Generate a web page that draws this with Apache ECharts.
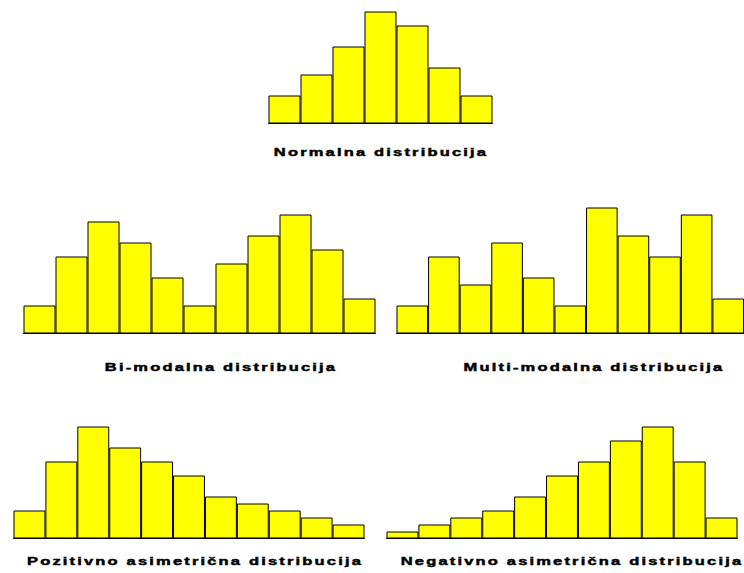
<!DOCTYPE html>
<html>
<head>
<meta charset="utf-8">
<script src="https://cdn.jsdelivr.net/npm/echarts@6/dist/echarts.min.js"></script>
<style>
  html, body { margin: 0; padding: 0; background: #fff; }
  #myChart text { letter-spacing: 1.45px; }
</style>
</head>
<body>
<div id="myChart" style="width: 744px; height: 573px;"></div>
<script>
// podaci (visine stupaca)
let normalna = [4, 7, 11, 16, 14, 8, 4]
let bimodalna = [4, 11, 16, 13, 8, 4, 10, 14, 17, 12, 5]
let multimodalna = [4, 11, 7, 13, 8, 4, 18, 14, 11, 17, 5]
let pozitivna = [4, 11, 16, 13, 11, 9, 6, 5, 4, 3, 2]
let negativna = [1, 2, 3, 4, 6, 9, 11, 14, 16, 11, 3]
let naslovi = [
    'Normalna distribucija',
    'Bi-modalna distribucija',
    'Multi-modalna distribucija',
    'Pozitivno asimetrična distribucija',
    'Negativno asimetrična distribucija'
]

let serije = [normalna, bimodalna, multimodalna, pozitivna, negativna]

// raspored grafova (pola piksela da rubovi budu oštri)
let grids = [
    {left: 268.5, top: 11.5, width: 224, height: 112},
    {left: 23.5, top: 214.5, width: 352, height: 119},
    {left: 396.5, top: 207.5, width: 352, height: 126},
    {left: 13.5, top: 426.5, width: 351, height: 112},
    {left: 386.5, top: 426.5, width: 351, height: 112}
]
let naslovPos = [[381, 152], [221, 367], [594, 367], [195, 561], [572, 561]]

let myChart = echarts.init(document.getElementById('myChart'), null, {renderer: 'svg'})

myChart.setOption({
    backgroundColor: '#fff',
    animation: false,
    grid: grids,
    xAxis: serije.map((d, i) => ({
        type: 'category',
        gridIndex: i,
        data: d.map((v, j) => String(j + 1)),
        axisLine: {lineStyle: {color: '#000', width: 1}},
        axisTick: {show: false},
        axisLabel: {show: false},
        splitLine: {show: false}
    })),
    yAxis: serije.map((d, i) => ({
        type: 'value',
        gridIndex: i,
        min: 0,
        max: 'dataMax',
        show: false,
        splitLine: {show: false}
    })),
    series: serije.map((d, i) => ({
        type: 'bar',
        xAxisIndex: i,
        yAxisIndex: i,
        data: d,
        barCategoryGap: '0%',
        itemStyle: {color: '#ffff00', borderColor: '#000', borderWidth: 1}
    })),
    graphic: naslovi.map((t, i) => ({
        type: 'text',
        x: naslovPos[i][0],
        y: naslovPos[i][1],
        scaleX: 1.5,
        style: {
            text: t,
            align: 'center',
            verticalAlign: 'middle',
            fill: '#000',
            stroke: '#000',
            lineWidth: 0.45,
            font: 'bold 11px "Liberation Sans", Arial, sans-serif'
        }
    }))
})
</script>
</body>
</html>
